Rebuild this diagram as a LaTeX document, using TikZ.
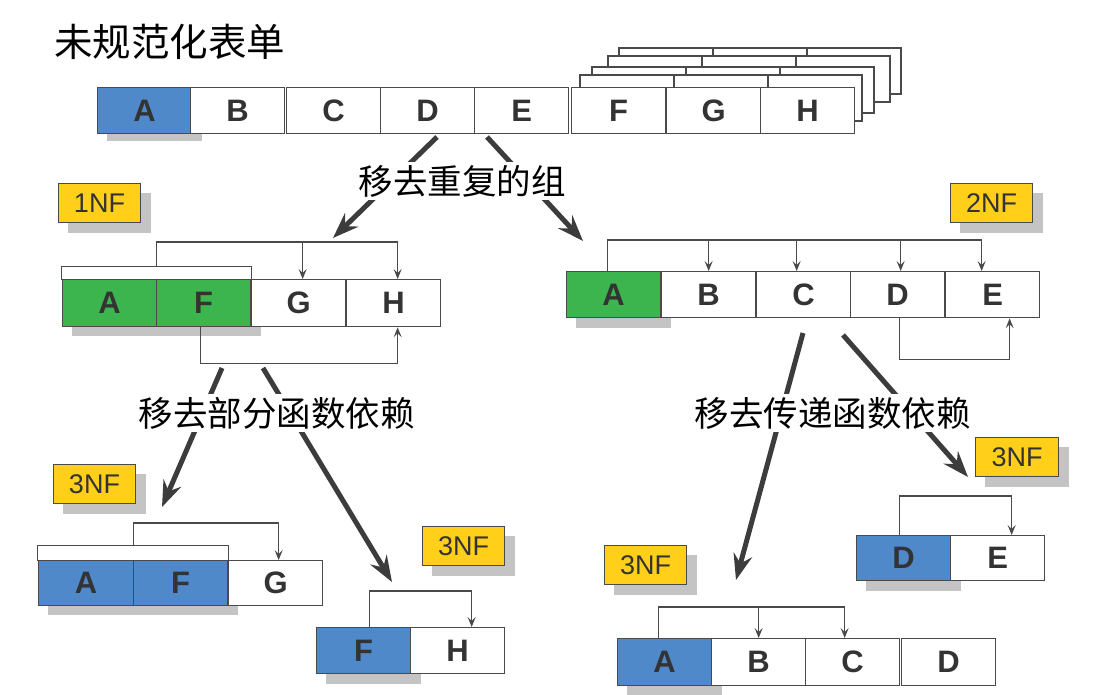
\documentclass[tikz,border=0pt]{standalone}
\usepackage{fontspec}
\setmainfont{Liberation Sans}
\newfontfamily\cjk{Noto Sans CJK SC}
\usetikzlibrary{arrows.meta,calc,backgrounds}
\definecolor{cblue}{HTML}{4F89CA}
\definecolor{cgreen}{HTML}{3DB54F}
\definecolor{cyellow}{HTML}{FFCF1A}
\definecolor{cshadow}{HTML}{C4C4C4}
\definecolor{cline}{HTML}{4A4A4A}
\definecolor{ctext}{HTML}{333333}
\definecolor{carrow}{HTML}{3C3C3C}
\begin{document}
\begin{tikzpicture}[x=1pt,y=-1pt,
  cell/.style={draw=cline, line width=1.3pt, fill=white, minimum width=94pt, minimum height=46pt, anchor=north west, inner sep=0pt, text=ctext, font=\fontsize{31}{33}\selectfont\bfseries},
  tag/.style={draw=cline, line width=1pt, fill=cyellow, minimum width=82pt, minimum height=39pt, anchor=north west, inner sep=0pt, text=ctext, font=\fontsize{27}{29}\selectfont},
  keybar/.style={draw=cline, line width=1.3pt, fill=white, anchor=north west, inner sep=0pt, minimum height=14pt},
  dep/.style={draw=cline, line width=1.2pt, -{Stealth[length=10pt,width=8pt,inset=4pt]}},
  big/.style={draw=carrow, line width=5pt, -{Stealth[length=26pt,width=19pt,inset=9pt]}},
  lbl/.style={fill=white, inner sep=3pt, text=black, font=\cjk\fontsize{34.5}{37}\selectfont},
  layer/.style={fill=white, draw=cline, line width=1.1pt}
]
\useasboundingbox (0,0) rectangle (1109,695);

% title
\node[anchor=west, inner sep=0pt, font=\cjk\fontsize{38.5}{41}\selectfont] (title) at (54,42) {未规范化表单};

% stacked repeating groups behind F G H
\foreach \dx/\dy in {48/-39, 37/-31, 21/-20, 9/-12} {
  \foreach \k in {0,1,2} {
    \filldraw[layer] ({571+\dx+94*\k},{87+\dy}) rectangle ++(94,46);
  }
}

% unnormalized row
\node[cell, fill=cblue] (tA) at (97,87) {A};
\node[cell] (tB) at (190,87) {B};
\node[cell] (tC) at (286,87) {C};
\node[cell] (tD) at (380,87) {D};
\node[cell] (tE) at (474,87) {E};
\node[cell] (tF) at (571,87) {F};
\node[cell] (tG) at (666,87) {G};
\node[cell] (tH) at (760,87) {H};

% 1NF
\node[tag] (n1) at (58,183) {1NF};
\node[keybar, minimum width=190pt, minimum height=13pt] (k1) at (61,266) {};
\node[cell, minimum height=47pt, fill=cgreen] (A1) at (62,279) {A};
\node[cell, minimum height=47pt, fill=cgreen] (F1) at (156,279) {F};
\node[cell, minimum height=47pt] (G1) at (251,279) {G};
\node[cell, minimum height=47pt] (H1) at (346,279) {H};
\draw[dep] (k1.north) |- ($(H1.north)+(4,-37)$) -- ($(H1.north)+(4,0)$);
\draw[dep] ($(G1.north)+(4,-37)$) -- ($(G1.north)+(4,0)$);
\draw[dep] ($(F1.south)+(-3,0)$) -- ++(0,36) -| ($(H1.south)+(4,0)$);

% 2NF
\node[tag] (n2) at (950,183) {2NF};
\node[cell, fill=cgreen] (A2) at (566,271) {A};
\node[cell] (B2) at (661,271) {B};
\node[cell] (C2) at (756,271) {C};
\node[cell] (D2) at (850,271) {D};
\node[cell] (E2) at (945,271) {E};
\draw[dep] ($(A2.north)+(-6,0)$) |- ($(E2.north)+(-11,-31)$) -- ($(E2.north)+(-11,0)$);
\foreach \n/\o in {B2/0, C2/-7, D2/3}
  \draw[dep] ($(\n.north)+(\o,-31)$) -- ($(\n.north)+(\o,0)$);
\draw[dep] ($(D2.south)+(2,0)$) -- ++(0,41) -| ($(E2.south)+(17,0)$);

% 3NF (A F G)
\node[tag] (n3) at (53,464) {3NF};
\node[keybar, minimum width=191pt, minimum height=15pt] (k3) at (37,545) {};
\node[cell, minimum height=45pt, minimum width=95pt, fill=cblue] (A3) at (38,560) {A};
\node[cell, minimum height=45pt, fill=cblue] (F3) at (133,560) {F};
\node[cell, minimum height=45pt] (G3) at (228,560) {G};
\draw[dep] (k3.north) |- ($(G3.north)+(3,-37)$) -- ($(G3.north)+(3,0)$);

% 3NF (F H)
\node[tag] (n4) at (422,526) {3NF};
\node[cell, fill=cblue] (F4) at (316,627) {F};
\node[cell] (H4) at (410,627) {H};
\draw[dep] ($(F4.north)+(6,0)$) |- ($(H4.north)+(14,-36)$) -- ($(H4.north)+(14,0)$);

% 3NF (A B C D)
\node[tag] (n5) at (604,545) {3NF};
\node[cell, minimum height=47pt, fill=cblue] (A5) at (617,638) {A};
\node[cell, minimum height=47pt] (B5) at (711,638) {B};
\node[cell, minimum height=47pt] (C5) at (805,638) {C};
\node[cell, minimum height=47pt] (D5) at (901,638) {D};
\draw[dep] ($(A5.north)+(-6,0)$) |- ($(C5.north)+(-8,-31)$) -- ($(C5.north)+(-8,0)$);
\draw[dep] ($(B5.north)+(0,-31)$) -- (B5.north);

% 3NF (D E)
\node[tag, minimum width=83pt] (n6) at (975,437) {3NF};
\node[cell, minimum height=45pt, fill=cblue] (D6) at (856,535) {D};
\node[cell, minimum height=45pt] (E6) at (950,535) {E};
\draw[dep] ($(D6.north)+(-4,0)$) |- ($(E6.north)+(14,-39)$) -- ($(E6.north)+(14,0)$);

% big arrows
\coordinate (a1s) at (437,137); \coordinate (a1e) at (333,238);
\coordinate (a2s) at (487,137); \coordinate (a2e) at (583,241);
\coordinate (a3s) at (222,368); \coordinate (a3e) at (162,507);
\coordinate (a4s) at (263,368); \coordinate (a4e) at (392,582);
\coordinate (a5s) at (803,333); \coordinate (a5e) at (736,580);
\coordinate (a6s) at (843,335); \coordinate (a6e) at (968,477);
\draw[big] (a1s) -- (a1e);
\draw[big] (a2s) -- (a2e);
\draw[big] (a3s) -- (a3e);
\draw[big] (a4s) -- (a4e);
\draw[big] (a5s) -- (a5e);
\draw[big] (a6s) -- (a6e);

% step labels
\node[lbl] (s1) at (462,181) {移去重复的组};
\node[lbl] (s2) at (276.5,413) {移去部分函数依赖};
\node[lbl] (s3) at (832.5,413) {移去传递函数依赖};

% shadows and background
\begin{scope}[on background layer]
\fill[white] (0,0) rectangle (1109,695);
\fill[cshadow] ($(tA.north west)+(10,7)$) rectangle ($(tA.south east)+(10,7)$);
\foreach \t in {n1,n2,n3,n4,n5,n6}
  \fill[cshadow] ($(\t.north west)+(10,10)$) rectangle ($(\t.south east)+(10,10)$);
\fill[cshadow] ($(A1.north west)+(10,9)$) rectangle ($(F1.south east)+(10,9)$);
\fill[cshadow] ($(A2.north west)+(10,10)$) rectangle ($(A2.south east)+(10,10)$);
\fill[cshadow] ($(A3.north west)+(10,9)$) rectangle ($(F3.south east)+(10,9)$);
\fill[cshadow] ($(F4.north west)+(10,10)$) rectangle ($(F4.south east)+(10,10)$);
\fill[cshadow] ($(A5.north west)+(10,10)$) rectangle ($(A5.south east)+(10,10)$);
\fill[cshadow] ($(D6.north west)+(10,10)$) rectangle ($(D6.south east)+(10,10)$);
\end{scope}
\end{tikzpicture}
\end{document}
